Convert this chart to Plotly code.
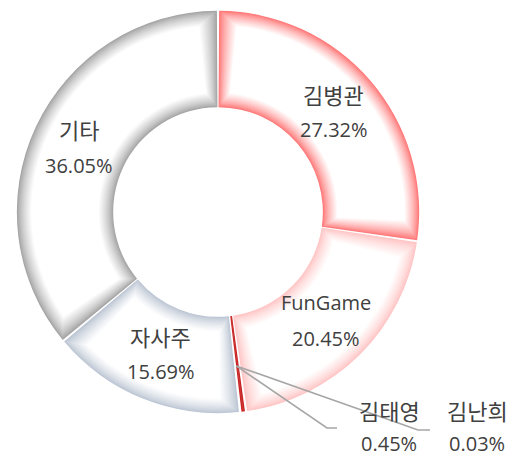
import math
import plotly.graph_objects as go

# ---- data ----
labels = ["김병관", "FunGame", "김태영", "김난희", "자사주", "기타"]
values = [27.32, 20.45, 0.45, 0.03, 15.69, 36.05]
pct_text = ["27.32%", "20.45%", "0.45%", "0.03%", "15.69%", "36.05%"]
edge_colors = ["#ff6464", "#ffbcbc", "#c00000", "#c00000", "#b2bdcd", "#979797"]
inside_label = [True, True, False, False, True, True]

# ---- layout geometry (px) ----
W, H = 512, 459
CX, CY = 218, 212
R, RIN = 202, 104
TXT = "#404040"
FONT = "Open Sans, Noto Sans CJK KR, sans-serif"
KFONT = "Noto Sans CJK KR, sans-serif"


def hex2rgb(h):
    h = h.lstrip("#")
    return tuple(int(h[i:i + 2], 16) for i in (0, 2, 4))


def mix(c, f):
    r, g, b = hex2rgb(c)
    return "rgb(%d,%d,%d)" % (round(r + (255 - r) * f), round(g + (255 - g) * f), round(b + (255 - b) * f))


TRANSP = "rgba(0,0,0,0)"
total = sum(values)
fig = go.Figure()

N = 18
step = 0.85
rmid = (R + RIN) / 2
for k in range(N + 1):
    t = k * step
    f = (k / N) ** 0.7
    if k == 0:
        vals = list(values)
        cols = list(edge_colors)
        line = dict(color="white", width=3.4)
    else:
        g = t / rmid / (2 * math.pi) * total
        vals, cols = [], []
        for v, c in zip(values, edge_colors):
            if v - 2 * g > 0:
                vals += [g, v - 2 * g, g]
                cols += [TRANSP, mix(c, f), TRANSP]
            else:
                vals += [v]
                cols += [TRANSP]
        line = dict(width=0)
    fig.add_trace(go.Pie(
        values=vals, labels=[f"s{k}_{i}" for i in range(len(vals))],
        sort=False, direction="clockwise", rotation=0,
        hole=(RIN + t) / (R - t),
        domain=dict(x=[(CX - R + t) / W, (CX + R - t) / W],
                    y=[(H - CY - R + t) / H, (H - CY + R - t) / H]),
        marker=dict(colors=cols, line=line),
        textinfo="none", hoverinfo="skip", showlegend=False,
    ))


def px2paper(x, y):
    return x / W, 1 - y / H


annotations = []
shapes = []
cum = 0.0
mids = []
for v in values:
    mids.append((cum + v / 2) / total * 2 * math.pi)
    cum += v


def add_text(txt, x, y, korean):
    px, py = px2paper(x, y)
    annotations.append(dict(x=px, y=py, xref="paper", yref="paper", text=txt,
                            showarrow=False,
                            font=dict(size=22 if korean else 20, color=TXT,
                                      family=KFONT if korean else FONT),
                            xanchor="center", yanchor="middle"))


rl = 153
for lab, pt, th, ins in zip(labels, pct_text, mids, inside_label):
    if not ins:
        continue
    x = CX + rl * math.sin(th)
    y = CY - rl * math.cos(th)
    add_text(lab, x, y - 18, lab != "FunGame")
    add_text(pt, x, y + 18, False)

# outside labels with leader lines
out_pos = {"김태영": (389, 410), "김난희": (477, 410)}
elbows = {"김태영": ((327, 428), (337, 428)), "김난희": ((418, 430), (430, 430))}
th0 = (mids[2] + mids[3]) / 2
sx = CX + 155 * math.sin(th0)
sy = CY - 155 * math.cos(th0)
for lab, pt, ins in zip(labels, pct_text, inside_label):
    if ins:
        continue
    lx, ly = out_pos[lab]
    add_text(lab, lx, ly, True)
    add_text(pt, lx, ly + 33, False)
    (ex, ey), (fx, fy) = elbows[lab]
    pts = [px2paper(sx, sy), px2paper(ex, ey), px2paper(fx, fy)]
    path = "M %f %f L %f %f L %f %f" % (pts[0] + pts[1] + pts[2])
    shapes.append(dict(type="path", xref="paper", yref="paper", path=path,
                       line=dict(color="#a6a6a6", width=1.6)))

fig.update_layout(
    width=W, height=H, margin=dict(l=0, r=0, t=0, b=0),
    paper_bgcolor="white", plot_bgcolor="white",
    annotations=annotations, shapes=shapes, showlegend=False,
)
fig.write_html("out.html", config={"displayModeBar": False},
               post_script="document.body.style.margin='0';document.body.style.overflow='hidden';")
